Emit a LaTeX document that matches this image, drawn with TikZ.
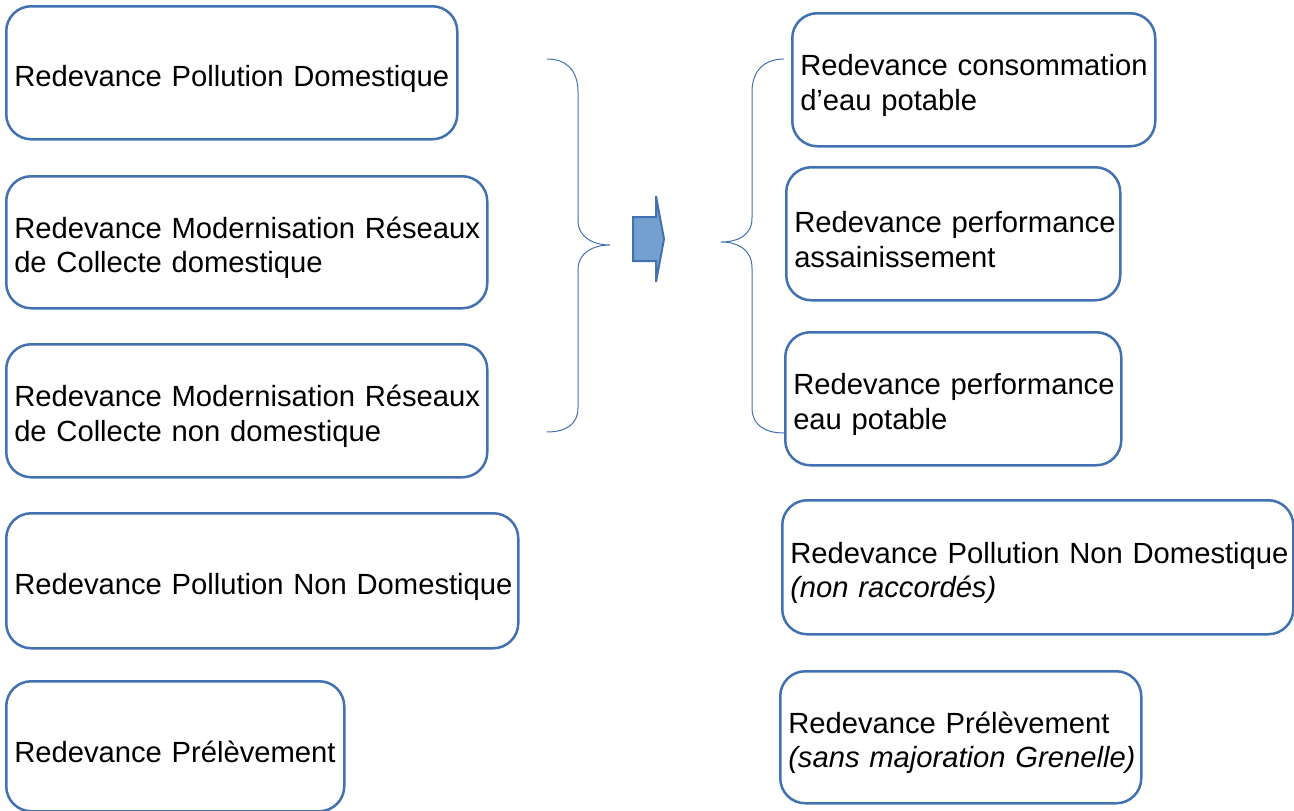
\documentclass[tikz,border=0pt]{standalone}
\usepackage{fontspec}
\setmainfont{Liberation Sans}
\definecolor{bc}{RGB}{65,113,176}
\definecolor{af}{RGB}{116,160,208}
\newcommand{\boxfont}{\fontsize{29.2}{34.5}\selectfont}
\begin{document}
\begin{tikzpicture}[x=1pt,y=-1pt,
  box/.style={draw=bc, line width=2.5pt, rounded corners=25pt, anchor=north west,
    inner xsep=8pt, inner ysep=0pt, align=left, font=\boxfont,
    execute at begin node={\rule{0pt}{33pt}}},
  brace/.style={draw=bc, line width=1pt}]
\useasboundingbox (0,0) rectangle (1294,811);
% left column
\node[box, text width=435pt, minimum height=133pt] (l1) at (5,5)
  {\mbox{Redevance Pollution Domestique}};
\node[box, text width=465pt, minimum height=132pt] (l2) at (5,175)
  {\mbox{Redevance Modernisation Réseaux}\\\mbox{de Collecte domestique}};
\node[box, text width=465pt, minimum height=133pt] (l3) at (5,343)
  {\mbox{Redevance Modernisation Réseaux}\\\mbox{de Collecte non domestique}};
\node[box, text width=496pt, minimum height=135pt] (l4) at (5,512)
  {\mbox{Redevance Pollution Non Domestique}};
\node[box, text width=322pt, minimum height=130pt] (l5) at (5,680)
  {\mbox{Redevance Prélèvement}};
% right column
\node[box, text width=347pt, minimum height=133pt] (r1) at (791,12)
  {\mbox{Redevance consommation}\\\mbox{d’eau potable}};
\node[box, text width=318pt, minimum height=133pt] (r2) at (785,166)
  {\mbox{Redevance performance}\\\mbox{assainissement}};
\node[box, text width=320pt, minimum height=133pt] (r3) at (784,331)
  {\mbox{Redevance performance}\\\mbox{eau potable}};
\node[box, text width=495pt, minimum height=134pt] (r4) at (781,499)
  {\mbox{Redevance Pollution Non Domestique}\\\mbox{\itshape(non raccordés)}};
\node[box, text width=345pt, minimum height=132pt] (r5) at (779,670)
  {\mbox{Redevance Prélèvement}\\\mbox{\itshape(sans majoration Grenelle)}};
% braces
\coordinate (lbt) at (547,59);
\coordinate (lbtip) at (610,245);
\coordinate (lbb) at (547,432);
\draw[brace] (lbt) .. controls (566,59) and (578,70) .. (578,92) -- (578,220)
  .. controls (578,238) and (594,245) .. (lbtip)
  .. controls (594,245) and (578,252) .. (578,270) -- (578,408)
  .. controls (578,424) and (566,432) .. (lbb);
\coordinate (rbt) at (784,59);
\coordinate (rbtip) at (721,242);
\coordinate (rbb) at (784,433);
\draw[brace] (rbt) .. controls (765,59) and (752,70) .. (752,92) -- (752,218)
  .. controls (752,236) and (737,242) .. (rbtip)
  .. controls (737,242) and (752,249) .. (752,268) -- (752,408)
  .. controls (752,425) and (765,433) .. (rbb);
% arrow
\coordinate (atip) at (664,239);
\draw[draw=bc, line width=2pt, fill=af, line join=miter]
  (633,217) -- (656,217) -- (656,196) -- (atip) -- (656,282) -- (656,261) -- (633,261) -- cycle;
\end{tikzpicture}
\end{document}
